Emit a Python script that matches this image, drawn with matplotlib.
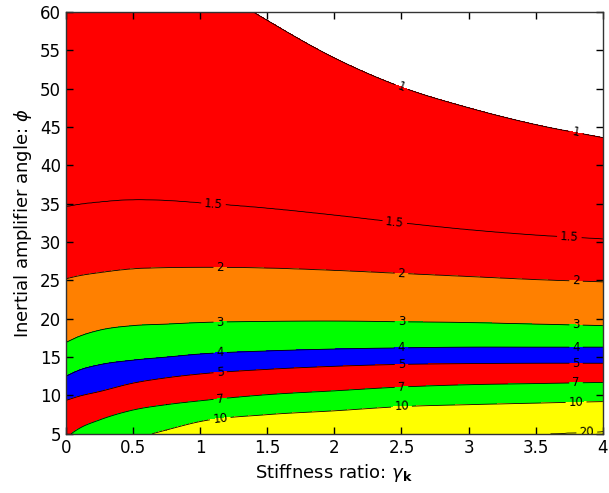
import numpy as np
import matplotlib.pyplot as plt
from matplotlib.colors import ListedColormap, BoundaryNorm

# stiffness ratio samples and phi (deg) where each contour level sits
gamma_pts = [0.0, 0.1, 0.25, 0.5, 0.75, 1.0, 1.5, 2.0, 2.5, 3.0, 3.5, 4.0]
levels = [1, 1.5, 2, 3, 4, 5, 7, 10, 20]
phi_1 = [73.0, 72.2, 71.0, 69.0, 66.8, 64.3, 58.9, 54.0, 50.2, 47.5, 45.3, 43.6]
phi_1p5 = [34.6, 34.9, 35.2, 35.5, 35.4, 35.1, 34.4, 33.5, 32.5, 31.6, 30.9, 30.4]
phi_2 = [25.2, 25.6, 26.0, 26.5, 26.65, 26.7, 26.6, 26.3, 25.9, 25.5, 25.1, 24.8]
phi_3 = [16.9, 17.7, 18.5, 19.1, 19.3, 19.5, 19.65, 19.7, 19.6, 19.5, 19.3, 19.1]
phi_4 = [12.5, 13.3, 14.0, 14.6, 15.0, 15.4, 15.8, 16.05, 16.2, 16.3, 16.3, 16.3]
phi_5 = [9.35, 9.9, 10.5, 11.6, 12.3, 12.8, 13.4, 13.8, 14.05, 14.15, 14.2, 14.2]
phi_7 = [4.5, 5.7, 6.8, 8.1, 8.8, 9.3, 10.1, 10.6, 11.1, 11.4, 11.55, 11.7]
phi_10 = [1.5, 2.1, 3.0, 4.3, 5.5, 6.6, 7.5, 8.0, 8.55, 8.8, 9.0, 9.2]
phi_20 = [-2.0, -1.6, -1.0, 0.0, 0.8, 1.5, 2.5, 3.2, 3.8, 4.3, 4.9, 5.3]
level_phis = [phi_1, phi_1p5, phi_2, phi_3, phi_4, phi_5, phi_7, phi_10, phi_20]

fill_levels = [0, 1, 1.5, 2, 3, 4, 5, 7, 10, 20, 100]
fill_colors = ['white', '#ff0000', '#ff0000', '#ff8000', '#00ff00', '#0000ff',
               '#ff0000', '#00ff00', '#ffff00', '#ffff00']


def hermite(xq, xs, ys):
    # cubic hermite through the read points, slopes from neighbours
    xs = np.asarray(xs, float)
    ys = np.asarray(ys, float)
    m = np.gradient(ys, xs)
    i = np.clip(np.searchsorted(xs, xq) - 1, 0, len(xs) - 2)
    h = xs[i + 1] - xs[i]
    t = (xq - xs[i]) / h
    h00 = 2 * t**3 - 3 * t**2 + 1
    h10 = t**3 - 2 * t**2 + t
    h01 = -2 * t**3 + 3 * t**2
    h11 = t**3 - t**2
    return h00 * ys[i] + h10 * h * m[i] + h01 * ys[i + 1] + h11 * h * m[i + 1]


# build the grid from the contour positions
g = np.linspace(0, 4, 401)
p = np.linspace(5, 60, 551)
G, P = np.meshgrid(g, p)
Z = np.zeros_like(G)
logl = np.log(levels)
curves = np.array([hermite(g, gamma_pts, lp) for lp in level_phis])
for j in range(len(g)):
    ph = curves[:, j]
    # extend beyond the outer lines so the field stays smooth there
    ph_ext = np.concatenate([[ph[0] + 30], ph, [ph[-1] - 30]])
    ll_ext = np.concatenate([[np.log(0.5)], logl, [np.log(60)]])
    Z[:, j] = np.exp(np.interp(p, ph_ext[::-1], ll_ext[::-1]))

fig = plt.figure(figsize=(6.09, 4.93), dpi=100)
ax = fig.add_axes([0.108, 0.120, 0.882, 0.856])

cmap = ListedColormap(fill_colors)
norm = BoundaryNorm(fill_levels, cmap.N)
ax.contourf(G, P, Z, levels=fill_levels, cmap=cmap, norm=norm)
cs = ax.contour(G, P, Z, levels=levels, colors='k', linewidths=0.6)

# label positions along the lines
lab_x = {1: [2.5, 3.8], 1.5: [1.1, 2.45, 3.75], 20: [3.88]}
manual = []
for lev, lp in zip(levels, level_phis):
    for xv in lab_x.get(lev, [1.15, 2.5, 3.8]):
        manual.append((xv, float(hermite(np.array([xv]), gamma_pts, lp)[0])))
ax.clabel(cs, fmt=lambda v: f'{v:g}', fontsize=8.5, inline=True, manual=manual, inline_spacing=3)

ax.set_xlim(0, 4)
ax.set_ylim(5, 60)
ax.set_xticks(np.arange(0, 4.01, 0.5))
ax.set_xticklabels(['0', '0.5', '1', '1.5', '2', '2.5', '3', '3.5', '4'])
ax.set_yticks(np.arange(5, 61, 5))
ax.tick_params(direction='in', top=True, right=True, length=5, width=1, labelsize=12)
for s in ax.spines.values():
    s.set_linewidth(1)
    s.set_color('#333333')

ax.set_xlabel(r'Stiffness ratio: $\gamma_{\mathbf{k}}$', fontsize=13)
ax.set_ylabel(r'Inertial amplifier angle: $\phi$', fontsize=13)

fig.savefig('out.png', dpi=100)
